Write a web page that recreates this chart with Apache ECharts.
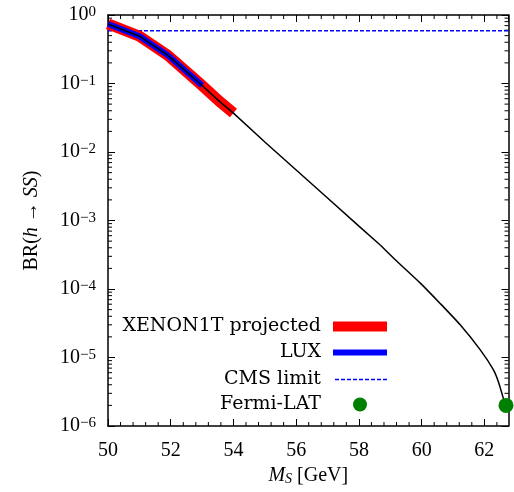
<!DOCTYPE html>
<html><head><meta charset="utf-8">
<script src="https://cdn.jsdelivr.net/npm/echarts@6/dist/echarts.min.js"></script>
<style>html,body{margin:0;padding:0;background:#fff}#c{width:514px;height:492px}</style>
</head><body><div id="c"></div>
<script>
// ---- data ----
const curveX  = [50.0, 51.0, 51.9, 52.93, 53.57, 54.0, 55, 56, 57, 58, 58.68, 59.15, 59.95, 60.59, 61.23, 61.87, 62.29, 62.45, 62.61, 62.68];
const curveBR = [0.74, 0.49, 0.26, 0.10, 0.054, 0.037, 0.0140, 5.47e-3, 2.13e-3, 8.28e-4, 4.39e-4, 2.7e-4, 1.23e-4, 6.16e-5, 3.0e-5, 1.29e-5, 6.6e-6, 4.4e-6, 2.5e-6, 2.0e-6];
const xenonX  = [50.0, 51.0, 51.9, 52.93, 53.57, 54.0];
const xenonBR = [0.74, 0.49, 0.26, 0.10, 0.054, 0.037];
const luxX    = [50.0, 51.0, 51.9, 52.93, 53.0];
const luxBR   = [0.74, 0.49, 0.26, 0.10, 0.094];
const cmsX    = [50, 62.77];
const cmsBR   = [0.59, 0.59];
const fermiX  = [62.69];
const fermiBR = [2.0e-6];
const xTickLabels = ['50', '52', '54', '56', '58', '60', '62'];
const yTickExponents = [-6, -5, -4, -3, -2, -1, 0];
const seriesNames = ['XENON1T projected', 'LUX', 'CMS limit', 'Fermi-LAT'];

const zip = (xs, ys) => xs.map((x, i) => [x, ys[i]]);
const curveAll = zip(curveX, curveBR);
const bendIdx = curveX.indexOf(58.68);
const curvePartA = curveAll.slice(0, bendIdx + 1);   // piecewise part
const curvePartB = curveAll.slice(bendIdx);          // bending tail

// minor tick positions
const yMinor = [];
for (let e = -6; e < 0; e++) for (let m = 2; m <= 9; m++) yMinor.push([50, m * Math.pow(10, e)]);
const xMinor = [];
for (let i = 1; 50 + 0.4 * i < 62.77; i++) if (i % 5 !== 0) xMinor.push([+(50 + 0.4 * i).toFixed(1), 1e-3]);

const SERIF = 'Liberation Serif';
const TXT = '#000';

const axisLineStyle = { show: true, onZero: false, lineStyle: { color: '#000', width: 1.5 } };
const axisTickStyle = { show: true, inside: true, length: 7, lineStyle: { color: '#000', width: 1 } };

function xAxis(pos, showLabel) {
  return {
    type: 'value', position: pos, min: 50, max: 62.77, interval: 2,
    axisLine: axisLineStyle, axisTick: axisTickStyle, splitLine: { show: false },
    axisLabel: {
      show: showLabel, showMaxLabel: false, margin: 15,
      fontFamily: SERIF, fontSize: 20, color: TXT,
      formatter: v => { const i = Math.round((v - 50) / 2); return (Math.abs(v - (50 + 2 * i)) < 1e-6 && xTickLabels[i]) ? xTickLabels[i] : ''; }
    },
    name: showLabel ? '{i|M}{sub|S} [GeV]' : '',
    nameLocation: 'middle', nameGap: 38,
    nameTextStyle: {
      fontFamily: SERIF, fontSize: 20, color: TXT,
      rich: { i: { fontFamily: SERIF, fontSize: 20, fontStyle: 'italic', color: TXT },
              sub: { fontFamily: SERIF, fontSize: 14, fontStyle: 'italic', color: TXT, verticalAlign: 'bottom', lineHeight: 10 } }
    }
  };
}
function yAxis(pos, showLabel) {
  return {
    type: 'log', logBase: 10, position: pos, min: 1e-6, max: 1,
    axisLine: axisLineStyle, axisTick: axisTickStyle, splitLine: { show: false },
    axisLabel: {
      show: showLabel, margin: 12, fontFamily: SERIF, fontSize: 20, color: TXT,
      formatter: v => {
        const e = Math.round(Math.log10(v));
        if (yTickExponents.indexOf(e) < 0) return '';
        return '10{sup|' + (e < 0 ? '\u2212' + (-e) : e) + '}';
      },
      rich: { sup: { fontFamily: SERIF, fontSize: 15, color: TXT, verticalAlign: 'top', lineHeight: 12 } }
    },
    name: showLabel ? 'BR({i|h} \u2192 {i|SS})' : '',
    nameLocation: 'middle', nameGap: 66, nameRotate: 90,
    nameTextStyle: {
      fontFamily: SERIF, fontSize: 20, color: TXT,
      rich: { i: { fontFamily: SERIF, fontSize: 20, fontStyle: 'italic', color: TXT } }
    }
  };
}

function legend(name, icon, top, right, w, h, gap) {
  return {
    data: [{ name: name, icon: icon }], orient: 'vertical', align: 'right',
    right: right, top: top, itemWidth: w, itemHeight: h, padding: 0,
    selectedMode: false, itemStyle: { borderWidth: 0, opacity: 1 },
    textStyle: { fontFamily: 'DejaVu Serif', fontSize: 19, color: TXT, padding: [0, gap, 0, 0] }
  };
}
let dashPath = 'path://';
for (let k = 0; k < 9; k++) dashPath += 'M' + (k * 6) + ' 0h4v1.5h-4z';

const minorTickSeries = (data, horiz) => ({
  type: 'custom', silent: true, data: data, z: 1,
  renderItem: (params, api) => {
    const cs = params.coordSys;
    const st = { stroke: '#000', lineWidth: 1 };
    if (horiz) {
      const y = api.coord([api.value(0), api.value(1)])[1];
      return { type: 'group', children: [
        { type: 'line', shape: { x1: cs.x, y1: y, x2: cs.x + 4, y2: y }, style: st },
        { type: 'line', shape: { x1: cs.x + cs.width, y1: y, x2: cs.x + cs.width - 4, y2: y }, style: st }
      ] };
    }
    const x = api.coord([api.value(0), api.value(1)])[0];
    return { type: 'group', children: [
      { type: 'line', shape: { x1: x, y1: cs.y + cs.height, x2: x, y2: cs.y + cs.height - 4 }, style: st },
      { type: 'line', shape: { x1: x, y1: cs.y, x2: x, y2: cs.y + 4 }, style: st }
    ] };
  }
});

const chart = echarts.init(document.getElementById('c'), null, { renderer: 'canvas' });
chart.setOption({
  animation: false,
  backgroundColor: '#fff',
  grid: { left: 108, right: 5.5, top: 15, bottom: 66, containLabel: false },
  xAxis: [xAxis('bottom', true), xAxis('top', false)],
  yAxis: [yAxis('left', true), yAxis('right', false)],
  legend: [
    legend(seriesNames[0], 'rect', 317, 127, 54, 10, 7),
    legend(seriesNames[1], 'rect', 343, 127, 54, 6, 7),
    legend(seriesNames[2], dashPath, 370, 127, 52, 10, 9),
    legend(seriesNames[3], 'circle', 395, 147, 14, 14, 27)
  ],
  series: [
    minorTickSeries(yMinor, true),
    minorTickSeries(xMinor, false),
    { name: seriesNames[2], type: 'line', data: zip(cmsX, cmsBR), symbol: 'none', z: 2,
      itemStyle: { color: '#0000ff' }, lineStyle: { color: '#0000ff', width: 1.6, type: [4, 2] } },
    { name: seriesNames[0], type: 'line', data: zip(xenonX, xenonBR), symbol: 'none', clip: false, z: 3,
      itemStyle: { color: '#ff0000' }, lineStyle: { color: '#ff0000', width: 11, cap: 'butt', join: 'miter' } },
    { name: seriesNames[1], type: 'line', data: zip(luxX, luxBR), symbol: 'none', clip: false, z: 4,
      itemStyle: { color: '#0000ff' }, lineStyle: { color: '#0000ff', width: 6, cap: 'butt', join: 'miter' } },
    { name: 'curve', type: 'line', data: curvePartA, symbol: 'none', z: 5, smooth: false,
      itemStyle: { color: '#000' }, lineStyle: { color: '#000', width: 1.5 } },
    { name: 'curve', type: 'line', data: curvePartB, symbol: 'none', z: 5, smooth: 0.2,
      itemStyle: { color: '#000' }, lineStyle: { color: '#000', width: 1.5 } },
    { name: seriesNames[3], type: 'scatter', data: zip(fermiX, fermiBR), symbol: 'circle', symbolSize: 15, z: 6,
      itemStyle: { color: '#008000', opacity: 1 } }
  ]
});
</script></body></html>
